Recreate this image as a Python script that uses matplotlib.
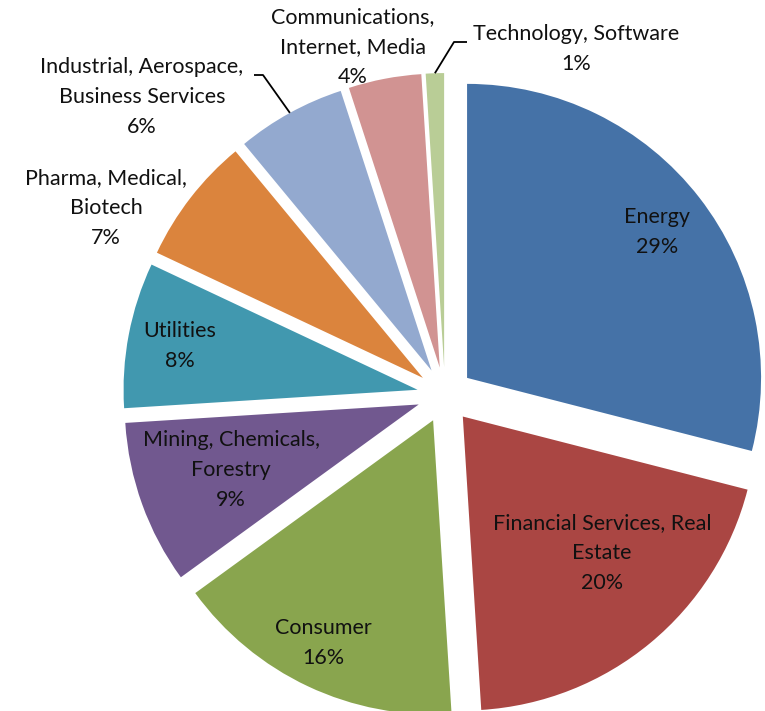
import numpy as np
import matplotlib
matplotlib.use("Agg")
import matplotlib.pyplot as plt

# Portfolio allocation by sector (percent)
sectors = [
    "Energy",
    "Financial Services, Real\nEstate",
    "Consumer",
    "Mining, Chemicals,\nForestry",
    "Utilities",
    "Pharma, Medical,\nBiotech",
    "Industrial, Aerospace,\nBusiness Services",
    "Communications,\nInternet, Media",
    "Technology, Software",
]
shares = [29, 20, 16, 9, 8, 7, 6, 4, 1]
colors = ["#4572A7", "#AA4643", "#89A54E", "#71588F", "#4198AF",
          "#DB843D", "#93A9CF", "#D19392", "#B9CD96"]

W, H, DPI = 765, 711, 100
fig = plt.figure(figsize=(W / DPI, H / DPI), dpi=DPI)
ax = fig.add_axes([0, 0, 1, 1])

explode_frac = 0.095
wedges, _ = ax.pie(shares, colors=colors, startangle=90, counterclock=False,
                   explode=[explode_frac] * len(shares), radius=1.0,
                   wedgeprops=dict(linewidth=0))

# pixel scale: pie centre and radius on the canvas
cx, cy, R = 445.0, 395.0, 294.0
ax.set_xlim(-cx / R, (W - cx) / R)
ax.set_ylim(-(H - cy) / R, cy / R)
ax.set_aspect("auto")
ax.axis("off")


def px(x, y):
    """Canvas pixel (from top-left) to data coordinates."""
    return (x - cx) / R, (cy - y) / R


plt.rcParams["font.family"] = ["Lato", "DejaVu Sans"]
label_pos = [
    (657, 232), (602, 553), (323, 643), (231, 470), (180, 346),
    (106, 208), (142, 97), (353, 47), (576, 49),
]
for w, name, val, (lx, ly) in zip(wedges, sectors, shares, label_pos):
    x, y = px(lx, ly)
    ax.text(x, y, f"{name}\n{val:.0f}%", ha="center", va="center",
            multialignment="center", fontsize=15.5, linespacing=1.62,
            color="#111111")


def arc_mid(w):
    ang = np.deg2rad((w.theta1 + w.theta2) / 2)
    ox, oy = w.center
    return ox + w.r * np.cos(ang), oy + w.r * np.sin(ang)


# leader lines for the labels set away from their wedges
leaders = {6: [(254, 75), (263, 75)], 8: [(467, 42), (454, 42)]}
for i, pts in leaders.items():
    xs, ys = zip(*[px(*p) for p in pts])
    mx, my = arc_mid(wedges[i])
    ax.plot(list(xs) + [mx], list(ys) + [my], color="black", lw=1.3,
            solid_capstyle="butt")

fig.savefig("out.png", dpi=DPI, facecolor="white")
